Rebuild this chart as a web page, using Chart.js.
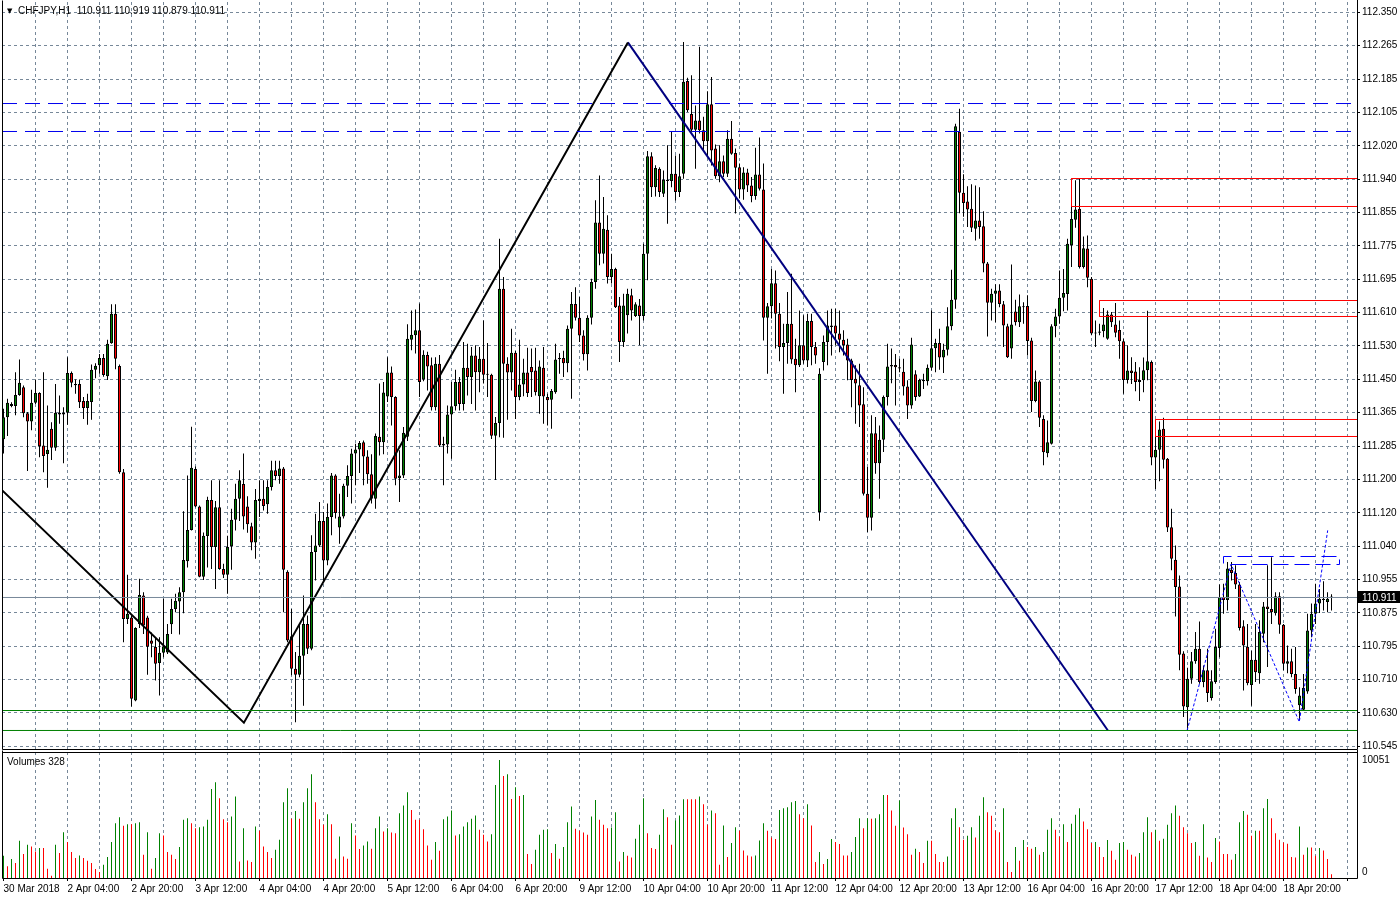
<!DOCTYPE html>
<html>
<head>
<meta charset="utf-8">
<script src="https://cdn.jsdelivr.net/npm/chart.js@4.4.0/dist/chart.umd.min.js"></script>
<style>
html, body { margin: 0; padding: 0; background: #fff; }
#wrap { position: relative; width: 1400px; height: 900px; overflow: hidden; font-family: 'Liberation Sans', Arial, sans-serif; }
#priceBox { position: absolute; left: 0; top: 0; width: 1400px; height: 752px; }
#volBox { position: absolute; left: 0; top: 750px; width: 1400px; height: 150px; }
.lbl { position: absolute; font-size: 10px; line-height: 12px; color: #000; white-space: pre; }
.tri { font-size: 7px; font-family: 'DejaVu Sans', sans-serif; vertical-align: 1px; }
</style>
</head>
<body>
<div id="wrap">
  <div id="priceBox"><canvas id="price" width="1400" height="752"></canvas></div>
  <div id="volBox"><canvas id="vol" width="1400" height="150"></canvas></div>
  <div class="lbl" style="left:7px;top:5px"><span class="tri">▼</span>  CHFJPY,H1  110.911 110.919 110.879 110.911</div>
  <div class="lbl" style="left:7px;top:756px">Volumes 328</div>
</div>
<script>
// hourly candles, 30 Mar 12:00 .. 19 Apr 08:00
const opens = [
111.300,111.354,111.387,111.382,111.409,111.428,111.364,111.344,111.390,111.414,
111.285,111.264,111.326,111.279,111.365,111.361,111.365,111.463,111.436,111.436,
111.394,111.377,111.392,111.471,111.482,111.500,111.455,111.536,111.609,111.480,
111.219,110.858,110.862,110.658,110.846,110.916,110.862,110.805,110.789,110.750,
110.775,110.776,110.845,110.883,110.901,110.924,111.000,111.077,111.227,111.135,
110.962,111.062,111.151,111.035,111.133,110.981,110.967,111.037,111.102,111.154,
111.190,111.135,111.086,111.046,111.148,111.154,111.140,111.183,111.224,111.210,
111.228,110.974,110.816,110.736,110.721,110.768,110.846,110.785,111.023,111.039,
111.099,111.002,111.109,111.211,111.083,111.110,111.186,111.210,111.265,111.275,
111.293,111.258,111.214,111.154,111.306,111.293,111.405,111.464,111.404,111.204,
111.211,111.306,111.545,111.556,111.568,111.447,111.507,111.482,111.379,111.486,
111.285,111.287,111.361,111.381,111.441,111.387,111.476,111.453,111.506,111.465,
111.498,111.459,111.459,111.309,111.340,111.670,111.486,111.464,111.513,111.404,
111.435,111.464,111.478,111.469,111.406,111.476,111.404,111.397,111.416,111.497,
111.500,111.487,111.572,111.633,111.599,111.555,111.509,111.599,111.687,111.833,
111.756,111.815,111.699,111.719,111.629,111.539,111.605,111.654,111.603,111.629,
111.603,111.756,111.996,111.920,111.965,111.904,111.938,111.935,111.953,111.908,
111.953,112.181,112.100,112.061,112.084,112.060,112.033,112.124,112.015,111.947,
111.984,111.953,112.039,112.004,111.969,111.914,111.956,111.924,111.898,111.951,
111.914,111.599,111.627,111.684,111.609,111.527,111.537,111.584,111.498,111.482,
111.531,111.494,111.591,111.527,111.121,111.490,111.539,111.580,111.580,111.560,
111.545,111.533,111.494,111.449,111.433,111.386,111.166,111.107,111.315,111.241,
111.299,111.404,111.479,111.483,111.477,111.466,111.430,111.383,111.460,111.405,
111.446,111.443,111.476,111.524,111.537,111.501,111.520,111.578,111.643,112.056,
111.906,111.885,111.867,111.818,111.838,111.824,111.732,111.636,111.658,111.666,
111.632,111.578,111.523,111.614,111.588,111.627,111.628,111.543,111.394,111.442,
111.350,111.266,111.289,111.578,111.602,111.648,111.657,111.777,111.840,111.867,
111.724,111.769,111.695,111.560,111.562,111.566,111.547,111.607,111.582,111.569,
111.541,111.446,111.469,111.467,111.441,111.445,111.470,111.490,111.255,111.274,
111.326,111.252,111.084,111.004,110.938,110.773,110.641,110.711,110.754,110.785,
110.703,110.732,110.664,110.703,110.787,110.912,110.905,110.979,110.971,110.943,
110.840,110.790,110.696,110.758,110.725,110.822,110.889,110.883,110.872,110.914,
110.844,110.748,110.754,110.723,110.646,110.635,110.680,110.830,110.871,110.896,
110.908,110.900,110.911
];
const highs = [
111.375,111.400,111.391,111.465,111.496,111.432,111.367,111.422,111.447,111.416,
111.465,111.383,111.342,111.436,111.408,111.379,111.502,111.467,111.447,111.447,
111.404,111.412,111.484,111.487,111.510,111.510,111.545,111.632,111.632,111.484,
111.227,110.967,110.866,110.838,110.957,110.924,110.866,110.825,110.813,110.813,
110.908,110.846,110.908,110.920,110.936,111.123,111.211,111.331,111.233,111.137,
111.071,111.159,111.199,111.148,111.199,110.994,111.063,111.129,111.191,111.224,
111.265,111.160,111.095,111.178,111.199,111.199,111.199,111.247,111.247,111.247,
111.232,110.978,110.883,110.777,110.846,110.916,110.867,111.064,111.117,111.146,
111.121,111.142,111.217,111.214,111.166,111.191,111.236,111.277,111.289,111.296,
111.297,111.273,111.263,111.314,111.437,111.441,111.502,111.479,111.406,111.273,
111.330,111.583,111.617,111.619,111.634,111.519,111.515,111.501,111.502,111.507,
111.306,111.383,111.441,111.471,111.453,111.539,111.535,111.527,111.531,111.527,
111.592,111.537,111.461,111.355,111.793,111.699,111.502,111.572,111.517,111.545,
111.498,111.525,111.523,111.525,111.494,111.527,111.412,111.424,111.535,111.512,
111.518,111.580,111.662,111.674,111.650,111.568,111.605,111.695,111.888,111.949,
111.896,111.851,111.756,111.722,111.650,111.658,111.670,111.670,111.637,111.645,
111.781,112.009,112.006,111.974,111.969,111.961,112.023,112.056,111.998,112.002,
112.277,112.189,112.195,112.121,112.265,112.093,112.156,112.191,112.025,112.023,
111.998,112.060,112.083,112.015,111.978,111.969,111.965,111.945,112.017,112.042,
111.978,111.635,111.719,111.715,111.635,111.584,111.662,111.707,111.547,111.617,
111.605,111.609,111.609,111.539,111.475,111.555,111.617,111.621,111.621,111.617,
111.568,111.547,111.498,111.482,111.486,111.428,111.232,111.359,111.355,111.334,
111.408,111.535,111.523,111.510,111.498,111.498,111.445,111.550,111.470,111.449,
111.461,111.484,111.617,111.547,111.572,111.535,111.625,111.717,112.076,112.113,
111.952,111.922,111.927,111.924,111.920,111.861,111.736,111.670,111.681,111.681,
111.640,111.584,111.730,111.643,111.656,111.637,111.654,111.550,111.469,111.445,
111.359,111.346,111.583,111.621,111.715,111.719,111.793,111.938,111.937,111.941,
111.799,111.801,111.699,111.592,111.584,111.623,111.617,111.613,111.635,111.592,
111.547,111.531,111.502,111.490,111.477,111.501,111.616,111.494,111.326,111.344,
111.353,111.254,111.129,111.039,110.965,110.779,110.738,110.777,110.826,110.852,
110.744,110.785,110.732,110.834,110.943,110.945,110.998,110.998,110.990,110.949,
110.855,110.846,110.780,110.846,110.855,110.900,110.990,111.010,110.924,110.924,
110.846,110.793,110.785,110.789,110.690,110.723,110.871,110.896,110.945,110.932,
110.951,110.924,110.919
];
const lows = [
111.265,111.308,111.379,111.359,111.407,111.354,111.222,111.322,111.387,111.256,
111.219,111.181,111.249,111.272,111.338,111.241,111.336,111.428,111.412,111.377,
111.350,111.336,111.348,111.450,111.461,111.454,111.446,111.535,111.472,111.215,
110.801,110.846,110.643,110.656,110.836,110.821,110.721,110.764,110.707,110.670,
110.764,110.772,110.821,110.875,110.820,110.872,110.985,111.076,111.133,110.961,
110.954,110.985,110.981,110.932,110.979,110.959,110.920,110.979,111.076,111.099,
111.078,111.070,111.027,111.006,111.109,111.125,111.117,111.174,111.199,111.191,
110.875,110.801,110.720,110.604,110.715,110.645,110.772,110.781,110.953,111.035,
110.949,110.990,111.064,111.105,111.043,111.105,111.158,111.142,111.187,111.217,
111.187,111.191,111.142,111.129,111.260,111.263,111.392,111.334,111.187,111.146,
111.205,111.296,111.519,111.511,111.404,111.443,111.420,111.371,111.371,111.281,
111.187,111.265,111.252,111.371,111.371,111.371,111.408,111.387,111.371,111.416,
111.437,111.404,111.301,111.200,111.305,111.304,111.348,111.420,111.350,111.396,
111.406,111.404,111.404,111.408,111.363,111.338,111.334,111.326,111.412,111.461,
111.453,111.465,111.400,111.592,111.539,111.494,111.469,111.582,111.670,111.728,
111.732,111.683,111.683,111.623,111.490,111.527,111.560,111.592,111.601,111.531,
111.592,111.691,111.896,111.897,111.896,111.896,111.830,111.920,111.887,111.896,
111.941,112.105,112.056,111.965,112.052,112.010,111.994,111.973,111.941,111.932,
111.945,111.945,112.000,111.855,111.892,111.889,111.908,111.883,111.889,111.912,
111.543,111.461,111.597,111.523,111.492,111.412,111.486,111.486,111.416,111.478,
111.486,111.478,111.482,111.486,111.100,111.469,111.482,111.506,111.531,111.514,
111.506,111.445,111.379,111.338,111.330,111.162,111.072,111.076,111.215,111.154,
111.269,111.383,111.438,111.383,111.465,111.408,111.350,111.375,111.395,111.404,
111.424,111.432,111.469,111.465,111.471,111.463,111.506,111.568,111.621,111.856,
111.847,111.822,111.810,111.789,111.793,111.711,111.553,111.592,111.588,111.625,
111.527,111.500,111.498,111.580,111.576,111.584,111.506,111.367,111.391,111.330,
111.236,111.256,111.287,111.551,111.584,111.615,111.617,111.724,111.820,111.720,
111.720,111.674,111.556,111.527,111.556,111.551,111.545,111.576,111.551,111.498,
111.412,111.437,111.436,111.418,111.394,111.416,111.445,111.236,111.178,111.197,
111.228,111.072,110.978,110.864,110.732,110.617,110.584,110.699,110.748,110.699,
110.690,110.654,110.658,110.699,110.764,110.871,110.879,110.953,110.932,110.830,
110.682,110.695,110.645,110.703,110.699,110.801,110.740,110.846,110.867,110.822,
110.732,110.725,110.715,110.674,110.609,110.633,110.674,110.813,110.846,110.873,
110.879,110.875,110.879
];
const closes = [
111.354,111.390,111.382,111.409,111.439,111.364,111.344,111.390,111.414,111.283,
111.259,111.274,111.279,111.365,111.361,111.365,111.463,111.439,111.433,111.391,
111.377,111.394,111.471,111.481,111.500,111.458,111.535,111.609,111.498,111.219,
110.858,110.871,110.662,110.836,110.917,110.842,110.790,110.797,110.748,110.775,
110.791,110.821,110.883,110.903,110.924,111.003,111.077,111.230,111.135,110.962,
111.063,111.151,111.035,111.133,110.981,110.967,111.035,111.102,111.154,111.199,
111.110,111.091,111.046,111.151,111.154,111.136,111.183,111.224,111.210,111.228,
110.979,110.805,110.736,110.721,110.768,110.846,110.785,111.023,111.039,111.099,
111.002,111.109,111.211,111.119,111.110,111.186,111.210,111.265,111.275,111.291,
111.258,111.214,111.154,111.308,111.293,111.415,111.464,111.404,111.203,111.211,
111.316,111.547,111.557,111.568,111.441,111.508,111.479,111.379,111.486,111.285,
111.289,111.361,111.381,111.441,111.387,111.476,111.453,111.506,111.465,111.498,
111.459,111.461,111.309,111.340,111.670,111.486,111.464,111.513,111.404,111.435,
111.464,111.414,111.465,111.416,111.479,111.405,111.396,111.419,111.496,111.500,
111.487,111.572,111.633,111.599,111.555,111.509,111.599,111.687,111.833,111.756,
111.818,111.699,111.719,111.625,111.539,111.629,111.658,111.617,111.632,111.603,
111.756,111.996,111.920,111.967,111.908,111.938,111.935,111.953,111.908,111.947,
112.179,112.109,112.061,112.084,112.060,112.033,112.124,112.010,111.947,111.984,
111.953,112.039,112.002,111.968,111.914,111.956,111.924,111.898,111.951,111.916,
111.599,111.627,111.684,111.609,111.527,111.537,111.584,111.496,111.482,111.531,
111.494,111.591,111.527,111.506,111.461,111.539,111.580,111.576,111.560,111.545,
111.531,111.494,111.446,111.437,111.383,111.166,111.107,111.315,111.241,111.299,
111.404,111.479,111.483,111.477,111.474,111.430,111.383,111.533,111.404,111.446,
111.443,111.476,111.524,111.537,111.501,111.520,111.578,111.643,112.070,111.906,
111.881,111.865,111.820,111.838,111.822,111.732,111.636,111.658,111.666,111.633,
111.580,111.502,111.582,111.588,111.627,111.625,111.542,111.394,111.442,111.353,
111.268,111.293,111.578,111.602,111.648,111.660,111.781,111.842,111.865,111.724,
111.770,111.697,111.560,111.562,111.565,111.582,111.607,111.588,111.562,111.541,
111.446,111.469,111.463,111.441,111.446,111.470,111.492,111.255,111.274,111.324,
111.250,111.083,111.006,110.937,110.770,110.643,110.711,110.754,110.785,110.703,
110.732,110.676,110.705,110.789,110.912,110.905,110.982,110.971,110.943,110.836,
110.793,110.700,110.758,110.727,110.826,110.889,110.883,110.875,110.914,110.844,
110.748,110.754,110.723,110.686,110.670,110.689,110.830,110.871,110.896,110.908,
110.905,110.908,110.911
];
const volumes = [
1896,990,1613,1273,3170,2038,2830,2688,2264,2547,
2547,792,198,2830,2122,3905,3056,2207,1698,1924,
1698,1472,1273,764,509,1132,1783,3056,4670,5179,
4443,4585,4585,4670,4754,1981,3905,792,1698,3820,
3622,2207,1981,1613,2632,4952,5094,4670,4245,4330,
4386,4952,7584,8150,6792,5009,4754,5235,6933,1415,
4245,1500,1358,4386,4018,2688,2207,1698,2405,3254,
6452,7641,5037,5716,5037,6452,7641,8830,6452,5009,
4528,5433,4585,1641,3537,1839,1641,4670,3622,2462,
2773,3113,2490,4245,5235,3962,4245,3877,3820,5518,
6169,7301,5801,4952,4952,4160,2773,1556,3056,2320,
5009,5235,5745,3622,3736,4386,4754,5037,5320,4103,
3679,3113,3736,7924,10051,8688,8830,6735,7726,6990,
7075,2038,1189,2405,3679,4103,4160,2122,2887,1641,
2632,4754,6084,4188,4018,3877,3679,5235,6650,4952,
4528,4245,4301,5603,1415,2207,1896,1755,3339,4528,
6792,3820,2547,2462,3679,5858,5179,2830,4896,5320,
6707,6707,
6707,6707,6933,6283,4528,5745,5518,1132,4471,1783,
2971,4330,4018,2349,1924,1839,1924,3198,4670,4018,
3453,3311,5801,5943,6028,6452,6566,5433,5094,6283,
4471,1358,2207,1189,1613,3311,3056,2887,1924,1924,
2207,3481,5094,4245,5094,5037,5094,5433,7075,7075,
5745,4443,6594,4301,3736,1981,2490,2207,1273,3170,
3170,2038,1358,1358,1839,5094,5943,4330,3254,3594,
4330,3453,5292,6877,5603,5292,4047,3905,5943,1358,
509,2632,1472,3226,2632,2490,2632,1981,2207,4103,
5094,4103,3537,4585,3056,4613,5377,5943,4811,4160,
2971,3056,2632,1783,3226,2320,1556,2971,3056,2405,
1981,1839,2122,3905,5179,3905,4103,3170,3339,4528,
5518,6169,5292,4330,3820,2971,3056,1896,4585,1755,
1358,3396,3113,2038,2038,1556,2038,4754,5716,5377,
3594,4018,4018,5943,6735,5094,3820,3254,3028,2915,
1783,1755,4386,1981,2604,2604,1896,2547,2349,1613,
328
];
// one label every 16 bars
const timeLabels = ['30 Mar 2018','2 Apr 04:00','2 Apr 20:00','3 Apr 12:00','4 Apr 04:00','4 Apr 20:00',
  '5 Apr 12:00','6 Apr 04:00','6 Apr 20:00','9 Apr 12:00','10 Apr 04:00','10 Apr 20:00','11 Apr 12:00',
  '12 Apr 04:00','12 Apr 20:00','13 Apr 12:00','16 Apr 04:00','16 Apr 20:00','17 Apr 12:00','18 Apr 04:00','18 Apr 20:00'];
const priceTicks = ['112.350','112.265','112.185','112.105','112.020','111.940','111.855','111.775','111.695',
  '111.610','111.530','111.450','111.365','111.285','111.200','111.120','111.040','110.955','110.875',
  '110.795','110.710','110.630','110.545'];
const volumeTicks = ['10051', '0'];

// drawn objects, in (bar, price)
const supportLevels = [110.6331, 110.5840];
const resistanceLevels = [112.1257, 112.0569];
const bidPrice = 110.911;
const zones = [[267.0, 111.9413, 111.8725], [274.0, 111.6413, 111.6020], [288.0, 111.3487, 111.3069]];
const trendBlack = [[-0.375, 111.175], [60.1, 110.603], [156.1, 112.276]];
const trendNavy = [[156.1, 112.276], [276.1, 110.584]];
const patternW = [[295.9, 110.584], [306.9, 110.993], [323.95, 110.605], [331.05, 111.076]];
const neckTop = [[305.0, 110.9946], [305.0, 111.0118], [333.5, 111.0118]];
const neckLow = [[307.0, 110.9921], [334.0, 110.9921], [334.0, 111.0044]];

const FONT = "'Liberation Sans', Arial, sans-serif";
const GREEN = '#008000', RED = '#ff0000', GRID = '#778899', NONE = 'rgba(0,0,0,0)';
const xMin = -0.375, xMax = 338.375;
const yMin = 110.53844, yMax = 112.37534;
const gridStep = 8, labelStep = 16;

Chart.defaults.font.family = FONT;
Chart.defaults.font.size = 10;
Chart.defaults.color = '#000';

function xTicks(scale, from) {
  const t = [];
  for (let v = from; v <= xMax; v += gridStep) t.push({ value: v });
  scale.ticks = t;
}

// no label overhang padding, fixed box size
function fixBox(s, w, h) {
  if (w !== null) s.width = w;
  if (h !== null) s.height = h;
  s.paddingTop = 0; s.paddingBottom = 0; s.paddingLeft = 0; s.paddingRight = 0;
}

function line(points, color, width, dash) {
  return {
    type: 'line', data: points.map(p => ({ x: p[0], y: p[1] })),
    borderColor: color, borderWidth: width, borderDash: dash || [],
    pointRadius: 0, pointHoverRadius: 0, fill: false, tension: 0, clip: 0, order: 0
  };
}

const lineSets = [];
resistanceLevels.forEach(v => lineSets.push(line([[xMin, v], [xMax, v]], '#0000ee', 1, [15, 8])));
supportLevels.forEach(v => lineSets.push(line([[xMin, v], [xMax, v]], GREEN, 1)));
lineSets.push(line([[xMin, bidPrice], [xMax, bidPrice]], GRID, 1));
zones.forEach(z => lineSets.push(line([[xMax + 1, z[1]], [z[0], z[1]], [z[0], z[2]], [xMax + 1, z[2]]], RED, 1)));
lineSets.push(line(trendBlack, '#000', 2));
lineSets.push(line(trendNavy, '#000080', 2));
lineSets.push(line(patternW, '#0000ff', 1, [3, 2]));
lineSets.push(line(neckTop, '#0000ff', 1, [15, 6]));
lineSets.push(line(neckLow, '#0000ff', 1, [15, 6]));

const frame = {
  id: 'frame',
  afterDraw(chart, args, opts) {
    const { ctx, chartArea: a } = chart;
    const l = Math.floor(a.left) + 0.5, r = Math.floor(a.right) + 0.5;
    const t = Math.floor(a.top) + 0.5, b = Math.floor(a.bottom) + 0.5;
    ctx.save();
    ctx.strokeStyle = '#000';
    ctx.lineWidth = 1;
    ctx.beginPath();
    if (opts.top) { ctx.moveTo(l, t); ctx.lineTo(r, t); }
    ctx.moveTo(l, t - 2); ctx.lineTo(l, b);
    ctx.lineTo(r, b);
    ctx.moveTo(r, 0); ctx.lineTo(r, b);
    ctx.stroke();
    ctx.restore();
  }
};

const bidTag = {
  id: 'bidTag',
  afterDraw(chart) {
    const { ctx, chartArea: a } = chart;
    const y = chart.scales.y.getPixelForValue(bidPrice);
    ctx.save();
    ctx.fillStyle = '#000';
    ctx.fillRect(a.right + 1, Math.round(y) - 6, 43, 12);
    ctx.fillStyle = '#fff';
    ctx.font = '10px ' + FONT;
    ctx.textBaseline = 'middle';
    ctx.fillText(bidPrice.toFixed(3), a.right + 5, y + 0.5);
    ctx.restore();
  }
};

const volLabels = {
  id: 'volLabels',
  afterDraw(chart) {
    const { ctx, chartArea: a } = chart;
    const ys = chart.scales.y;
    ctx.save();
    ctx.fillStyle = '#000';
    ctx.font = '10px ' + FONT;
    ctx.textBaseline = 'middle';
    ctx.fillText(volumeTicks[0], a.right + 5, ys.getPixelForValue(+volumeTicks[0]));
    ctx.fillText(volumeTicks[1], a.right + 5, ys.getPixelForValue(+volumeTicks[1]) - 6);
    ctx.restore();
  }
};

const bars = closes.map((c, i) => i);
const bodyColors = closes.map((c, i) => c >= opens[i] ? GREEN : RED);
const pTop = +priceTicks[0], pBot = +priceTicks[priceTicks.length - 1];

new Chart(document.getElementById('price'), {
  type: 'bar',
  data: {
    datasets: lineSets.concat([
      {
        data: bars.map(i => ({ x: i, y: [opens[i], closes[i]] })),
        backgroundColor: bodyColors, borderColor: '#000', borderWidth: 1, borderSkipped: false,
        barThickness: 3, maxBarThickness: 3, minBarLength: 1, grouped: false, inflateAmount: 0, order: 1
      },
      {
        data: bars.map(i => ({ x: i, y: [lows[i], highs[i]] })),
        backgroundColor: '#000', borderWidth: 0,
        barThickness: 1, maxBarThickness: 1, grouped: false, inflateAmount: 0, order: 2
      }
    ])
  },
  options: {
    responsive: false, animation: false, events: [],
    layout: { padding: { left: 2, top: 2, right: 0, bottom: 3 } },
    plugins: { legend: { display: false }, tooltip: { enabled: false } },
    scales: {
      x: {
        type: 'linear', min: xMin, max: xMax, offset: false,
        afterBuildTicks: s => xTicks(s, gridStep),
        afterFit: s => fixBox(s, null, 0),
        grid: { offset: false, color: GRID, drawTicks: false },
        border: { display: false, dash: [3, 3] },
        ticks: { display: false }
      },
      y: {
        position: 'right', min: yMin, max: yMax,
        afterBuildTicks: s => {
          s.ticks = priceTicks.map((t, k) => ({ value: pTop - k * (pTop - pBot) / (priceTicks.length - 1) }));
        },
        afterFit: s => fixBox(s, 43, null),
        grid: { color: GRID, drawTicks: true, tickLength: 3, tickColor: '#000', tickBorderDash: [] },
        border: { display: false, dash: [3, 3] },
        ticks: { autoSkip: false, padding: 2, color: '#000', callback: (v, k) => priceTicks[k] }
      }
    }
  },
  plugins: [frame, bidTag]
});

const volColors = volumes.map((v, i) => (i === 0 || v > volumes[i - 1]) ? GREEN : RED);

new Chart(document.getElementById('vol'), {
  type: 'bar',
  data: {
    datasets: [{
      data: volumes.map((v, i) => ({ x: i, y: v })),
      backgroundColor: volColors, borderWidth: 0,
      barThickness: 1, maxBarThickness: 1, grouped: false, inflateAmount: 0
    }]
  },
  options: {
    responsive: false, animation: false, events: [],
    layout: { padding: { left: 2, top: 2, right: 0, bottom: 0 } },
    plugins: { legend: { display: false }, tooltip: { enabled: false }, frame: { top: true } },
    scales: {
      x: {
        type: 'linear', min: xMin, max: xMax, offset: false,
        afterBuildTicks: s => xTicks(s, 0),
        afterFit: s => fixBox(s, null, 22),
        grid: {
          offset: false, drawTicks: true, tickLength: 3, tickBorderDash: [],
          color: c => (c.tick && c.tick.value === 0) ? NONE : GRID,
          tickColor: c => (c.tick && c.tick.value % labelStep === 0) ? '#000' : NONE
        },
        border: { display: false, dash: [3, 3] },
        ticks: {
          autoSkip: false, maxRotation: 0, align: 'start', padding: 2, color: '#000',
          callback: v => v % labelStep === 0 ? (timeLabels[v / labelStep] || '') : ''
        }
      },
      y: {
        position: 'right', min: 0, max: 10730,
        afterFit: s => fixBox(s, 43, null),
        grid: { display: false }, border: { display: false },
        ticks: { display: false }
      }
    }
  },
  plugins: [frame, volLabels]
});
</script>
</body>
</html>
